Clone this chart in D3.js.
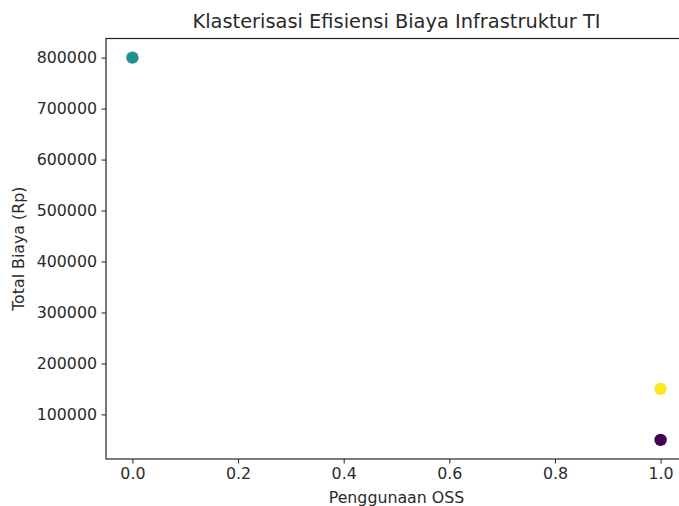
<!DOCTYPE html>
<html><head><meta charset="utf-8">
<script src="https://cdn.jsdelivr.net/npm/d3@7"></script>
<style>body{margin:0;background:#fff}svg{display:block}text{font-family:"DejaVu Sans",sans-serif}</style>
</head><body>
<script>
const ossUsage = [0, 1, 1];
const totalCost = [800000, 150000, 50000];
const clusterColors = ["#21918c", "#fde725", "#440154"];
const xTicks = [0.0, 0.2, 0.4, 0.6, 0.8, 1.0];
const yTicks = [100000, 200000, 300000, 400000, 500000, 600000, 700000, 800000];

const W = 679, H = 506;
const m = {left: 106, right: 687, top: 38.5, bottom: 459};
const svg = d3.select("body").append("svg").attr("width", W).attr("height", H);
const x = d3.scaleLinear().domain([-0.05, 1.05]).range([m.left, m.right]);
const y = d3.scaleLinear().domain([12500, 837500]).range([m.bottom, m.top]);

svg.append("rect").attr("x", m.left).attr("y", m.top).attr("width", m.right - m.left).attr("height", m.bottom - m.top)
  .attr("fill", "none").attr("stroke", "#222").attr("stroke-width", 1.2);

const fs = 15.8;
const xa = svg.append("g").attr("transform", `translate(0,${m.bottom})`)
  .call(d3.axisBottom(x).tickValues(xTicks).tickFormat(d3.format(".1f")).tickSize(4.5).tickPadding(4));
const ya = svg.append("g").attr("transform", `translate(${m.left},0)`)
  .call(d3.axisLeft(y).tickValues(yTicks).tickFormat(d3.format("d")).tickSize(4.5).tickPadding(4.5));
[xa, ya].forEach(a => {
  a.select(".domain").remove();
  a.selectAll("text").attr("font-family", "DejaVu Sans").attr("font-size", fs).attr("fill", "#2a2a2a");
  a.selectAll("line").attr("stroke", "#222");
});

svg.append("g").selectAll("circle").data(ossUsage).join("circle")
  .attr("cx", (d) => x(d)).attr("cy", (d, i) => y(totalCost[i])).attr("r", 6.2)
  .attr("fill", (d, i) => clusterColors[i]);

svg.append("text").attr("x", (m.left + m.right) / 2).attr("y", 28.3).attr("text-anchor", "middle")
  .attr("font-size", 19.4).attr("fill", "#2a2a2a").text("Klasterisasi Efisiensi Biaya Infrastruktur TI");
svg.append("text").attr("x", (m.left + m.right) / 2).attr("y", 503.3).attr("text-anchor", "middle")
  .attr("font-size", fs).attr("fill", "#2a2a2a").text("Penggunaan OSS");
svg.append("text").attr("transform", `translate(23.5,${(m.top + m.bottom) / 2}) rotate(-90)`).attr("text-anchor", "middle")
  .attr("font-size", fs).attr("fill", "#2a2a2a").text("Total Biaya (Rp)");
</script>
</body></html>
